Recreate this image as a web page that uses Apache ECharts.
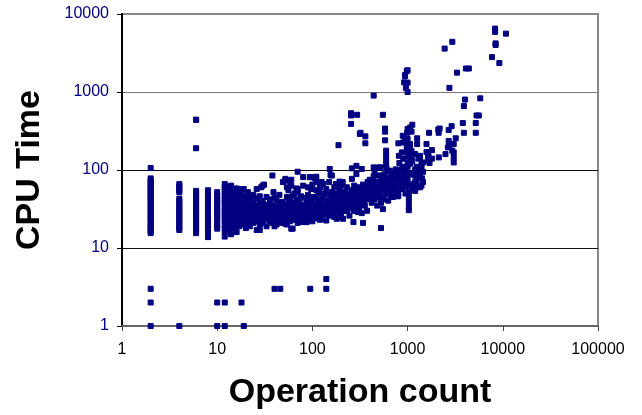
<!DOCTYPE html>
<html>
<head>
<meta charset="utf-8">
<script src="https://cdn.jsdelivr.net/npm/echarts@6/dist/echarts.min.js"></script>
<style>
html,body{margin:0;padding:0;background:#fff;}
#chart{width:642px;height:415px;}
</style>
</head>
<body>
<div id="chart"></div>
<script>
// Axis ticks
const xTicks = [1, 10, 100, 1000, 10000, 100000];
const yTicks = [1, 10, 100, 1000, 10000];

// Vertical runs of points at small operation counts (count -> list of CPU times)
const columnCounts = [2, 4, 6, 8, 10, 12, 13];
const columnTimes = [
  [15.5,16.5,17.5,18.5,19.5,21,22.5,24,25.5,27,29,31,33,35,37.5,40,42.5,45,48,51,54,57,61,65,69,73,78,106],
  [17,18,19.5,21,22.5,24,26,28,30,32,34.5,37,40,43,52,55,58.5,62,66],
  [15.5,17,18.5,20,22,24,26,28,30,32,35,38,41,44,47,50,54,190,440],
  [13.8,16,17.5,19,20.5,22,24,26,28,30,32,34.5,37,40,43,46,50,55],
  [17.7,19,21,23,25,27,29,31,34,37,40,43,47,52],
  [14,16,18,20,22,24,26,28,30,33,36,39,42,46,50,55,60,66],
  [17,19,21,23,25,27,29,32,35,38,42,46,50,55,60]
];

// Very short runs (CPU time 1-4)
const lowPoints = [[2,3],[2,2],[2,1],[4,1],[10,2],[10,1],[12,2],[12,1],[18,2],[19,1],
  [40,3],[46,3],[95,3],[140,4],[140,3]];

// Main cloud
const cloudPoints = [
  [14,15],[14,16.5],[14,19.5],[14,22],[14,25],[14,28],[14,31],[14,34],[14,37],[14,41],[14,45],[14,50],[14,56],[14,63],
  [15,18],[15,21],[15,24],[15,27],[15,30],[15,33],[15,36],[15,40],[15,44],[15,48],[15,55],
  [16,16],[16,20],[16,23],[16,26],[16,29],[16,32],[16,35],[16,38],[16,42],[16,47],[16,52],[16,58],
  [17,19],[17,22],[17,25],[17,28],[17,31],[17,34],[17,37],[17,41],[17,45],[17,57],
  [18,21],[18,24],[18,27],[18,30],[18,33],[18,36],[18,40],[18,44],[18,50],
  [19,20],[19,23],[19,26],[19,29],[19,32],[19,35],[19,39],[19,57],
  [20,18],[20,22],[20,24],[20,27],[20,30],[20,34],[20,38],[20,42],[20,47],
  [21,20],[21,25],[21,28],[21,31],[21,35],[21,52],
  [22,19],[22,23],[22,26],[22,29],[22,32],[22,37],[22,44],
  [24,21],[24,24],[24,27],[24,30],[24,33],[24,36],[24,40],[24,48],
  [26,17],[26,22],[26,25],[26,28],[26,31],[26,35],[26,43],[26,57],
  [28,17],[28,20],[28,24],[28,27],[28,30],[28,33],[28,38],[28,46],
  [29,60],[29,26],[29,32],
  [30,21],[30,25],[30,29],[30,34],[30,63],[30,40],
  [31,65],[31,28],[31,23],
  [33,19],[33,24],[33,27],[33,31],[33,36],[33,45],
  [36,22],[36,26],[36,29],[36,33],[36,38],[36,42],
  [38,85],[38,21],[38,28],[38,35],
  [39,52],[39,25],[39,31],
  [40,19],[40,23],[40,27],[40,30],[40,34],[40,44],
  [42,20],[42,24],[42,29],[42,33],[42,40.5],
  [45,22],[45,26],[45,31],[45,36],[45,48],
  [46,28],
  [48,21],[48,25],[48,29],[48,34],[48,39],
  [49,37],[49,27.5],[49,70],
  [52,20.4],[52,24],[52,30],[52,33],[52,73],[52,77],
  [54,20],[54,27],[54,31],[54,45],[54,60],
  [56,25],[56,29],[56,34],[56,40],[56,55],
  [58,22],[58,28],[58,32],[58,43],[58,73],
  [60,17.7],[60,24],[60,30],[60,36],[60,63],[60,75],
  [62,17.7],[62,26],[62,33],[62,47],
  [65,23],[65,28],[65,32],[65,38],[65,50],
  [68,25],[68,30],[68,35],[68,42],[68,58],
  [70,95],[70,21],[70,27],[70,31],[70,57],[70,52],
  [73,22.5],[73,26],[73,29],[73,33],[73,39],
  [76,24],[76,28],[76,32],[76,36],[76,46],
  [80,21.5],[80,27],[80,31],[80,35],[80,63],[80,81],
  [84,25],[84,29],[84,35],[84,44],
  [87,21.5],[87,27],[87,33],[87,38],
  [90,24],[90,30],[90,36],[90,48],[90,60],
  [94,23.7],[94,27.5],[94,32],[94,40.5],[94,81],
  [97,81],[97,26],[97,30],[97,57],
  [100,22],[100,28],[100,33],[100,38],[100,45],[100,65],
  [105,45],[106,79],[106,25],[106,31],[106,36],
  [110,32],[110,55],[110,82],[110,70],[110,27],[110,24],
  [115,26],[115,30],[115,35],[115,42],[115,50],
  [118,52],[120,23],[120,28],[120,33],[120,39],[120,60],
  [125,23.7],[125,70],[125,30],[125,36],
  [128,28],[130,37],[130,66],[130,27],[130,32],[130,45],
  [135,50],[140,22.5],[140,27.5],[140,57],[140,33],[140,40],
  [145,36],[150,32],[150,70],[150,26],[150,38],[150,48],
  [152,103],[152,36],[155,86],[155,30],
  [160,85],[160,28],[160,42],[160,52],
  [165,47],[170,25],[170,31],[170,35],[170,40],[170,60],
  [177,66],[177,30],[177,45],
  [180,30],[180,23.7],[180,38],[180,50],
  [185,35],[188,208],
  [193,71],[193,25],[193,33],[193,42],[193,55],[195,62],
  [200,63],[200,28],[200,36],[200,48],
  [208,70],[208,32],[208,40],
  [210,33.5],[210,23.7],[210,39],[210,45],
  [220,52],[220,30],[220,37],[220,42],
  [230,30],[230,35],[230,44],[230,60],
  [240,36],[245,26],[245,34],[245,40],[245,50],[250,48],
  [260,77],[260,105],[260,38],[260,45],[260,55],
  [265,32],[270,35],[270,21.5],[270,42],[270,48],
  [275,63],[275,30],[275,38],
  [280,40],[285,55],
  [290,113],[290,89],[290,30],[290,45],[290,52],
  [300,29],[300,37],[300,43],[300,60],
  [310,33],[315,57],[315,35],[315,47],
  [320,40],[320,50],[330,28],[330,103],[335,42],
  [340,21],[340,37],[340,45],[340,55],[340,65],[345,60],
  [350,57],[350,40],[350,48],[355,35],
  [360,45],[360,62],[370,52],[375,30],
  [380,42],[380,50],[380,58],[380,70],[390,46],
  [400,43],[400,52],[400,60],[400,75],
  [410,63],[410,48],[410,55],[420,38],[430,68],
  [440,108],[440,83],[440,71],[440,50],[440,60],
  [450,42],[450,95],[465,52],[465,45],[465,65],[470,58],[480,35],
  [500,57],[500,85],[500,108],[500,48],[500,70],
  [510,50],[520,108],[525,18],[525,38],[525,45],[525,62],[530,75],
  [550,31.5],[550,85],[550,55],[550,68],[560,42],[570,88],
  [595,177],[595,152],[595,132],[595,115],[600,105],[595,49.5],[595,60],[595,75],
  [610,52],[620,96],[625,40.5],[625,55],[625,70],[640,65],
  [650,98],[650,62],[650,80],[660,48],
  [680,55],[680,70],[680,85],
  [700,93],[700,63],[700,45],[700,75],
  [720,58],[740,80],[750,102],[760,50],
  [790,46],[790,65],
  [800,77],[800,47],[800,55],[800,90],
  [810,152],[820,123],[830,68],[850,100],
  [870,168],[870,93],[870,57],[870,70],[880,110],
  [890,62],[900,140],[900,93],[900,80],
  [920,85],[940,60],[940,75],[950,50],[960,100],[970,68],
  [980,177],[1000,77],[1000,110],[1000,125],[1000,150],
  [1030,45],[1030,33.5],[1030,30.5],[1030,39],[1030,52],[1030,65],
  [1060,63],[1060,91],[1060,120],[1060,140],[1060,160],[1060,190],
  [1100,89],[1100,58],[1100,150],[1100,175],
  [1120,130],[1150,66],[1180,85],
  [1200,54],[1200,70],[1200,100],[1200,160],
  [1240,73],[1240,110],[1250,60],[1280,95],
  [1300,83],[1300,140],[1350,79],[1350,60],[1350,145],[1350,152],[1350,85],
  [1400,63],[1400,111],[1400,120],[1420,78],[1450,125],[1450,95],[1450,70],
  [1580,170],[1650,153],[1650,132],[1650,150],[1700,123],
  [1800,180],[1800,140],[2130,145],[2500,160],[2650,195],[2950,177],
  [3050,168],[3050,145],[3050,125]
];

// Points above 200 CPU time
const highPoints = [
  [6,440],[255,535],[255,500],[255,390],[295,510],[315,290],[320,300],[360,270],[360,220],
  [440,900],[550,510],[580,340],[580,310],[580,240],[800,220],
  [890,275],[900,225],[940,236],[990,300],[1000,250],[1000,335],[1060,205],[1060,215],[1060,330],[1060,350],
  [1100,310],[1120,380],[980,205],
  [920,1330],[940,1600],[940,1650],[960,1130],[980,1850],[1000,1900],[1000,1320],[1000,1000],
  [1260,255],[1260,215],[1580,215],[1680,300],
  [2100,330],[2120,300],[2170,340],[2700,325],[2700,235],[2750,205],[2900,365],[3050,215],[3200,255],
  [2750,1130],[3300,1770],[2450,3600],[2950,4400],[4100,2000],[4400,2000],
  [3800,400],[3900,300],[3900,660],[4000,800],[5200,400],[5200,300],[5300,500],[5600,500],[5800,830],
  [7700,2800],[8300,6500],[8300,5900],[8400,4200],[8400,4000],[9200,2350],[10800,5600]
];

const points = [];
columnCounts.forEach(function (c, i) {
  columnTimes[i].forEach(function (t) { points.push([c, t]); });
});
lowPoints.forEach(function (p) { points.push(p); });
cloudPoints.forEach(function (p) { points.push(p); });
highPoints.forEach(function (p) { points.push(p); });

const chart = echarts.init(document.getElementById('chart'), null, {renderer: 'canvas'});
const fontFam = "'Liberation Sans', Arial, sans-serif";
chart.setOption({
  animation: false,
  backgroundColor: '#ffffff',
  grid: {
    left: 122, right: 44, top: 14, bottom: 87,
    show: true, borderColor: '#888888', borderWidth: 2, backgroundColor: 'transparent'
  },
  xAxis: {
    type: 'log', logBase: 10,
    min: xTicks[0], max: xTicks[xTicks.length - 1],
    splitNumber: xTicks.length - 1,
    name: 'Operation count', nameLocation: 'middle', nameGap: 50,
    nameTextStyle: {fontSize: 34, fontWeight: 'bold', color: '#000', fontFamily: fontFam},
    axisLine: {show: true, lineStyle: {color: '#666666', width: 2}},
    axisTick: {show: true, inside: false, length: 5, lineStyle: {color: '#444', width: 1}},
    axisLabel: {
      show: true, margin: 16, fontSize: 16, color: '#000', fontFamily: fontFam,
      showMinLabel: true, showMaxLabel: true,
      formatter: function (v) { return String(Math.round(v)); }
    },
    splitLine: {show: false}
  },
  yAxis: {
    type: 'log', logBase: 10,
    min: yTicks[0], max: yTicks[yTicks.length - 1],
    splitNumber: yTicks.length - 1,
    name: 'CPU Time', nameLocation: 'middle', nameGap: 75, nameRotate: 90,
    nameTextStyle: {fontSize: 34, fontWeight: 'bold', color: '#000', fontFamily: fontFam},
    axisLine: {show: true, lineStyle: {color: '#000', width: 2}},
    axisTick: {show: true, inside: false, length: 5, lineStyle: {color: '#000', width: 1}},
    axisLabel: {
      show: true, margin: 13, fontSize: 16, color: '#000080', fontFamily: fontFam,
      showMinLabel: true, showMaxLabel: true,
      formatter: function (v) { return String(Math.round(v)); }
    },
    splitLine: {show: true, lineStyle: {color: ['#000', '#111', '#111', '#7a7a7a', '#888'], width: 1}}
  },
  series: [{
    type: 'scatter',
    data: points,
    symbol: 'rect',
    symbolSize: 5,
    itemStyle: {color: '#000080', borderColor: '#000080', borderWidth: 1, opacity: 1},
    silent: true
  }]
});
</script>
</body>
</html>
